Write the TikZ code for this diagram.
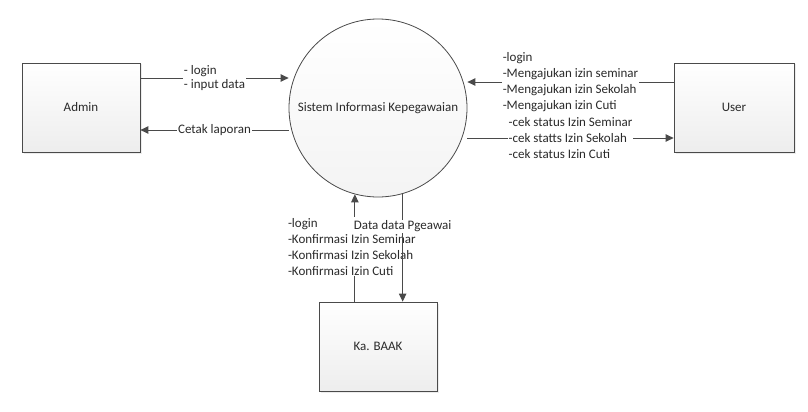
\documentclass[tikz,border=0pt]{standalone}
\usepackage{fontspec}
\setmainfont{Carlito}
\usepackage{tikz}
\usetikzlibrary{arrows.meta,shadows}
\definecolor{txtgray}{HTML}{2A2A2A}
\definecolor{linegray}{HTML}{4A4A4A}

\begin{document}
\begin{tikzpicture}[x=1pt,y=-1pt,
    ent/.style={draw=linegray,line width=0.8pt,minimum width=118pt,minimum height=89pt,
      top color=white,bottom color=gray!14,drop shadow={shadow xshift=1.5pt,shadow yshift=-1.5pt,opacity=0.15},
      text=txtgray,font=\fontsize{13}{16}\selectfont},
    proc/.style={circle,draw=linegray,line width=0.8pt,minimum size=178pt,inner sep=0pt,
      top color=white,bottom color=gray!9,text=txtgray,font=\fontsize{13}{16}\selectfont},
    flow/.style={draw=linegray,line width=1pt,-{Triangle[length=8pt,width=7.5pt]}},
    lbl/.style={fill=white,inner sep=1pt,align=left,text=txtgray,font=\fontsize{13}{16}\selectfont}]
      \useasboundingbox (0,0) rectangle (808,412);
      \node[ent] (admin) at (81,107.5) {Admin};
      \node[ent,minimum width=120pt] (user) at (734,107.5) {User};
      \node[ent] (baak) at (378,346.5) {Ka. BAAK};
      \node[proc] (sys) at (378,108) {Sistem Informasi Kepegawaian};
      % ends of the side flows
      \coordinate (a1) at ([yshift=29.5pt]admin.east);
      \coordinate (a2) at ([yshift=-22.5pt]admin.east);
      \coordinate (u1) at ([yshift=25.5pt]user.west);
      \coordinate (u2) at ([yshift=-30.5pt]user.west);
      \draw[flow] (a1) -- node[lbl,font=\fontsize{13}{14.5}\selectfont]{- login\\- input data} (a1 -| sys.west);
      \draw[flow] (a2 -| sys.west) -- node[lbl]{Cetak laporan} (a2);
      \draw[flow] (u1) -- node[lbl]{-login\\-Mengajukan izin seminar\\-Mengajukan izin Sekolah\\-Mengajukan izin Cuti} (u1 -| sys.east);
      \draw[flow] (u2 -| sys.east) -- node[lbl]{-cek status Izin Seminar\\-cek statts Izin Sekolah\\-cek status Izin Cuti} (u2);
      % flows with Ka. BAAK
      \draw[flow] (baak.north -| sys.-105) -- node[lbl,pos=0.51,xshift=-3pt]{-login\\-Konfirmasi Izin Seminar\\-Konfirmasi Izin Sekolah\\-Konfirmasi Izin Cuti} (sys.-105);
      \draw[flow] (sys.-74) -- node[lbl,pos=0.3]{Data data Pgeawai} (baak.north -| sys.-74);
\end{tikzpicture}
\end{document}
